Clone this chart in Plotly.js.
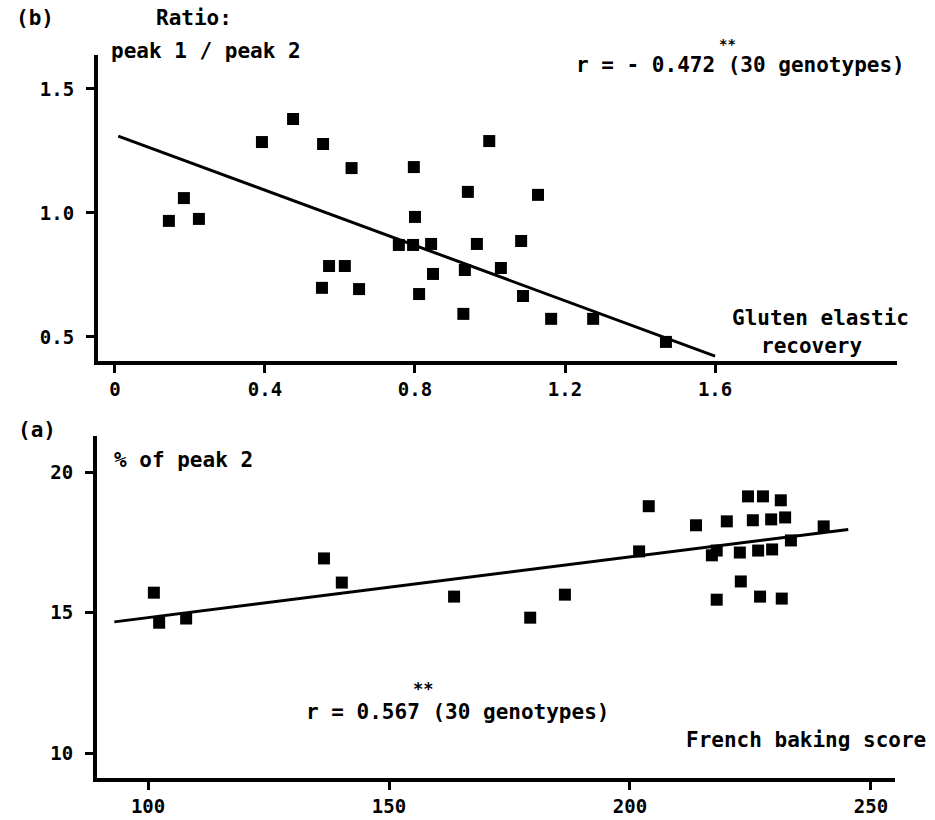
<!DOCTYPE html>
<html>
<head>
<meta charset="utf-8">
<script src="https://cdn.plot.ly/plotly-3.0.1.min.js"></script>
<style>html,body{margin:0;padding:0;background:#fff;}#chart{width:935px;height:820px;}</style>
</head>
<body>
<div id="chart"></div>
<script>
// ---- Panel (b): gluten elastic recovery vs ratio peak1/peak2 ----
const elasticRecovery = [0.144,0.184,0.224,0.392,0.475,0.555,0.631,0.797,0.800,0.757,0.795,0.843,0.571,0.613,0.552,0.651,0.848,0.811,0.929,0.933,0.941,0.998,0.965,1.029,1.083,1.128,1.088,1.163,1.275,1.469];
const peakRatio       = [0.968,1.060,0.976,1.286,1.379,1.278,1.181,1.185,0.984,0.871,0.871,0.875,0.786,0.786,0.698,0.693,0.754,0.673,0.593,0.770,1.085,1.290,0.875,0.778,0.887,1.073,0.665,0.573,0.573,0.480];
const fitB_x = [0.009, 1.60];
const fitB_y = [1.310, 0.423];
const ticksB_x = [0, 0.4, 0.8, 1.2, 1.6];
const ticksB_xText = ['0', '0.4', '0.8', '1.2', '1.6'];
const ticksB_y = [0.5, 1.0, 1.5];
const ticksB_yText = ['0.5', '1.0', '1.5'];

// ---- Panel (a): French baking score vs % of peak 2 ----
const bakingScore = [101.2,102.3,107.9,136.5,140.2,163.5,179.3,186.5,201.9,203.9,224.5,227.6,231.3,213.7,220.1,225.5,229.3,232.2,217.0,218.0,222.8,226.6,229.5,233.4,223.0,218.0,227.0,231.5,240.2];
const peak2Pct    = [15.71,14.64,14.79,16.93,16.07,15.57,14.82,15.64,17.18,18.79,19.14,19.14,19.00,18.11,18.25,18.29,18.32,18.39,17.04,17.21,17.14,17.21,17.25,17.57,16.11,15.46,15.57,15.50,18.07];
const fitA_x = [93.0, 245.3];
const fitA_y = [14.67, 17.96];
const ticksA_x = [100, 150, 200, 250];
const ticksA_y = [10, 15, 20];

const W = 935, H = 820;
const px = v => v / W;
const py = v => 1 - v / H;
const FONT = 'DejaVu Sans Mono';

const markerStyle = {symbol: 'square', size: 12, color: '#000'};
const traces = [
  {x: elasticRecovery, y: peakRatio, type: 'scatter', mode: 'markers', marker: markerStyle, xaxis: 'x', yaxis: 'y', hoverinfo: 'skip'},
  {x: fitB_x, y: fitB_y, type: 'scatter', mode: 'lines', line: {color: '#000', width: 3}, xaxis: 'x', yaxis: 'y', hoverinfo: 'skip'},
  {x: bakingScore, y: peak2Pct, type: 'scatter', mode: 'markers', marker: markerStyle, xaxis: 'x2', yaxis: 'y2', hoverinfo: 'skip'},
  {x: fitA_x, y: fitA_y, type: 'scatter', mode: 'lines', line: {color: '#000', width: 3}, xaxis: 'x2', yaxis: 'y2', hoverinfo: 'skip'}
];

const tickFont = {family: FONT, size: 19, color: '#000', weight: 'bold'};
const axisCommon = {
  showline: true, linecolor: '#000', linewidth: 4,
  ticks: 'outside', ticklen: 8, tickwidth: 3, tickcolor: '#000',
  showgrid: false, zeroline: false, tickfont: tickFont,
  tickmode: 'array', fixedrange: true
};
const xCommon = Object.assign({}, axisCommon, {ticklabelstandoff: 0});
const yCommon = Object.assign({}, axisCommon, {ticklabelstandoff: 8});

function ann(text, x, y, xanchor, size) {
  return {text: text, x: px(x), y: py(y), xref: 'paper', yref: 'paper', showarrow: false,
          xanchor: xanchor || 'left', yanchor: 'middle', borderpad: 0,
          font: {family: FONT, size: size || 21, color: '#000', weight: 'bold'}};
}

const layout = {
  width: W, height: H,
  margin: {l: 0, r: 0, t: 0, b: 0},
  paper_bgcolor: '#fff', plot_bgcolor: '#fff',
  showlegend: false,
  xaxis: Object.assign({}, xCommon, {domain: [px(98), px(897)], range: [-0.045, 2.085], anchor: 'y', tickvals: ticksB_x, ticktext: ticksB_xText}),
  yaxis: Object.assign({}, yCommon, {domain: [py(361), py(55)], range: [0.403, 1.637], anchor: 'x', tickvals: ticksB_y, ticktext: ticksB_yText}),
  xaxis2: Object.assign({}, xCommon, {domain: [px(97), px(895)], range: [89.4, 255.0], anchor: 'y2', tickvals: ticksA_x}),
  yaxis2: Object.assign({}, yCommon, {domain: [py(778), py(436)], range: [9.11, 21.29], anchor: 'x2', tickvals: ticksA_y}),
  annotations: [
    ann('(b)', 15, 18),
    ann('Ratio:', 155, 18),
    ann('peak 1 / peak 2', 110, 51),
    ann('r = - 0.472 (30 genotypes)', 575, 65),
    ann('**', 727, 44, 'center', 14),
    ann('Gluten elastic', 820, 318, 'center'),
    ann('recovery', 812, 346, 'center'),
    ann('(a)', 17, 430),
    ann('% of peak 2', 113, 460),
    ann('r = 0.567 (30 genotypes)', 305, 712),
    ann('**', 423, 689, 'center', 17),
    ann('French baking score', 685, 740)
  ]
};

Plotly.newPlot('chart', traces, layout, {displayModeBar: false, staticPlot: true});
</script>
</body>
</html>
